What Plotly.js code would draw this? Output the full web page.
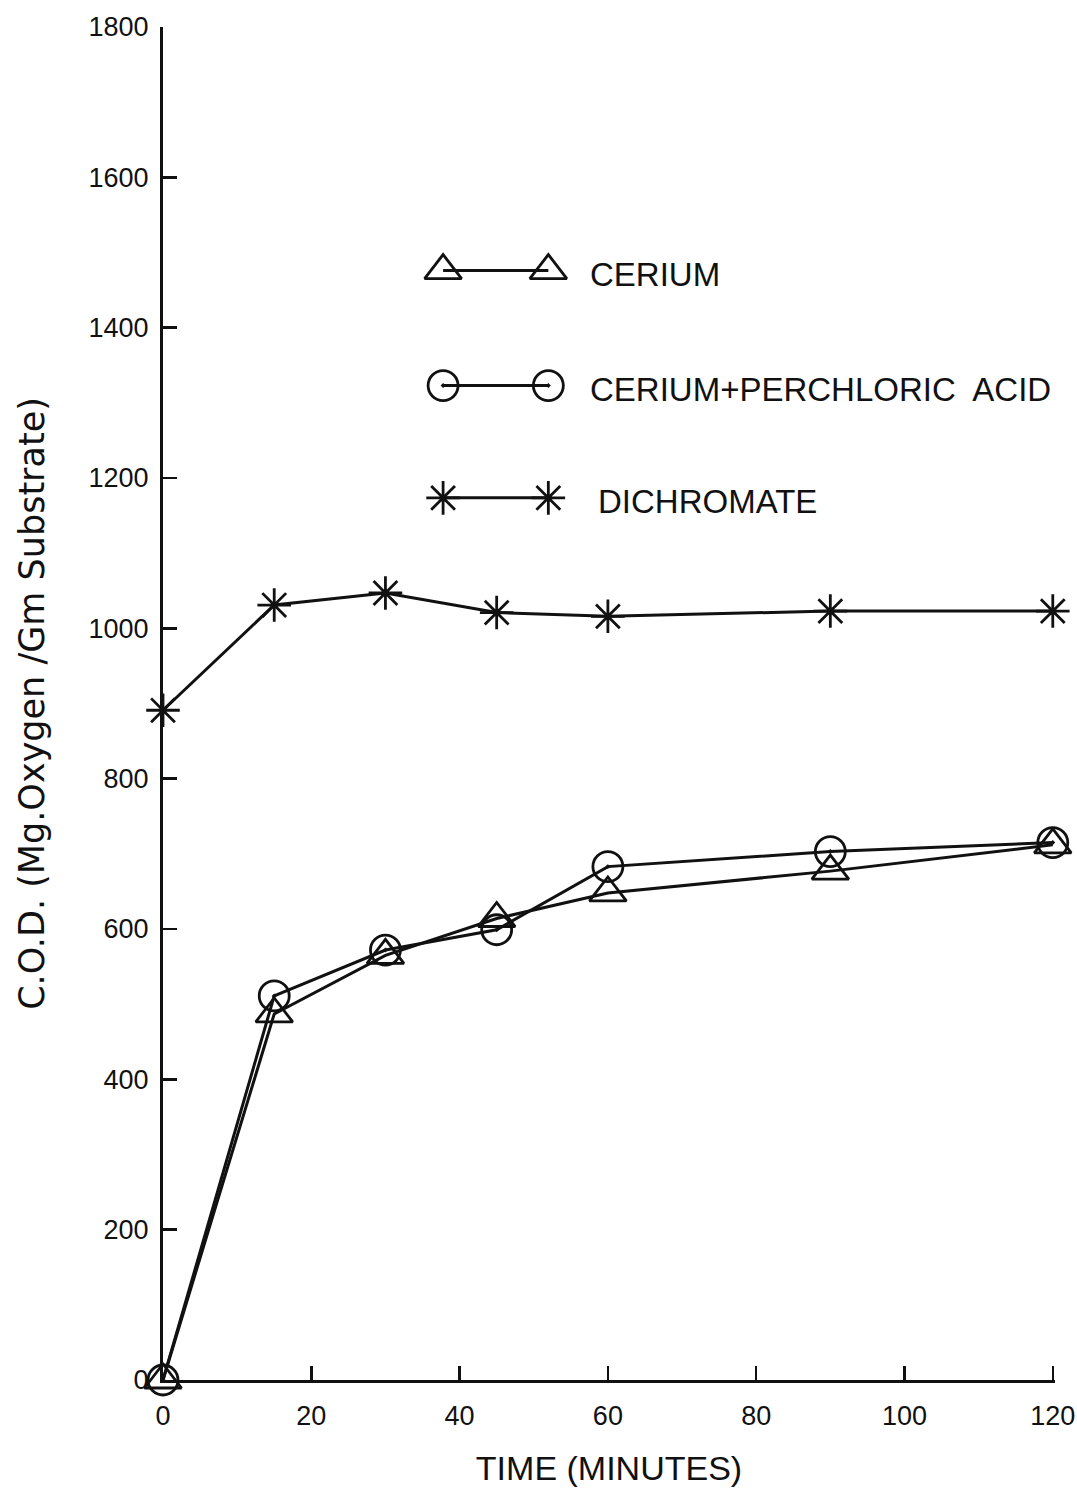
<!DOCTYPE html>
<html>
<head>
<meta charset="utf-8">
<script src="https://cdn.plot.ly/plotly-3.0.1.min.js"></script>
<style>html,body{margin:0;padding:0;background:#fff}#chart{width:1077px;height:1493px}</style>
</head>
<body>
<div id="chart"></div>
<script>
// ---- data ----
const timeMinutes = [0, 15, 30, 45, 60, 90, 120];
const cerium = [0, 487, 565, 614, 648, 677, 712];
const ceriumPerchloric = [0, 511, 572, 599, 683, 703, 715];
const dichromate = [891, 1031, 1047, 1021, 1016, 1023, 1023];
const seriesNames = ["CERIUM", "CERIUM+PERCHLORIC  ACID", "DICHROMATE"];
const yTicks = [0, 200, 400, 600, 800, 1000, 1200, 1400, 1600, 1800];
const xTicks = [0, 20, 40, 60, 80, 100, 120];

// ---- styles ----
const ink = "#111";
const lineW = 3;
const symbols = ["triangle-up-open", "circle-open-dot", "asterisk-open"];
const sizes = [32, 30, 28];
const allY = [cerium, ceriumPerchloric, dichromate];

const traces = allY.map((ys, i) => ({
  x: timeMinutes, y: ys, type: "scatter", mode: "lines+markers",
  name: seriesNames[i], showlegend: false, cliponaxis: false,
  line: {color: ink, width: lineW},
  marker: {symbol: symbols[i], size: sizes[i], color: ink, line: {color: ink, width: 2.8}}
}));

// custom legend (drawn on a hidden overlay axis in 0..1 units)
const legRowY = [0.82, 0.735, 0.652];
const legSampleX = [0.314, 0.432];
legRowY.forEach((ly, i) => {
  traces.push({
    x: legSampleX, y: [ly, ly], xaxis: "x2", yaxis: "y2", type: "scatter",
    mode: "lines+markers", showlegend: false, hoverinfo: "skip", cliponaxis: false,
    line: {color: ink, width: lineW},
    marker: {symbol: symbols[i], size: sizes[i], color: ink, line: {color: ink, width: 2.8}}
  });
});
const legTextX = [0.477, 0.477, 0.485];
const annotations = seriesNames.map((n, i) => ({
  xref: "x2", yref: "y2", x: legTextX[i], y: legRowY[i] - 0.003, text: n,
  showarrow: false, xanchor: "left", yanchor: "middle",
  font: {family: "Liberation Sans Narrow, Liberation Sans, Arial", size: 33, color: ink}
}));

const tickFont = {family: "Liberation Sans, Arial", size: 27, color: ink};
const layout = {
  width: 1077, height: 1493,
  margin: {l: 163, r: 22, t: 27, b: 113},
  paper_bgcolor: "#fff", plot_bgcolor: "#fff",
  showlegend: false,
  xaxis: {
    range: [0, 120.3], tickvals: xTicks, ticktext: xTicks.map(String),
    showline: true, linecolor: ink, linewidth: 3, showgrid: false, zeroline: false,
    ticks: "inside", ticklen: 14, tickwidth: 2.5, tickcolor: ink,
    tickfont: tickFont, ticklabelstandoff: 10, ticklabeloverflow: "allow",
    title: {text: "TIME (MINUTES)", font: {family: "Liberation Sans, Arial", size: 34, color: ink}, standoff: 26}
  },
  yaxis: {
    range: [0, 1800], tickvals: yTicks, ticktext: yTicks.map(String),
    showline: true, linecolor: ink, linewidth: 3, showgrid: false, zeroline: false,
    ticks: "inside", ticklen: 14, tickwidth: 2.5, tickcolor: ink,
    tickfont: tickFont, ticklabelstandoff: 6, ticklabeloverflow: "allow",
    title: {text: "C.O.D. (Mg.Oxygen /Gm Substrate)", font: {family: "DejaVu Sans, Liberation Sans, Arial", size: 35, color: ink}, standoff: 34}
  },
  xaxis2: {overlaying: "x", range: [0, 1], visible: false, anchor: "y2"},
  yaxis2: {overlaying: "y", range: [0, 1], visible: false, anchor: "x2"},
  annotations: annotations
};

Plotly.newPlot("chart", traces, layout, {displayModeBar: false, staticPlot: true});
</script>
</body>
</html>
